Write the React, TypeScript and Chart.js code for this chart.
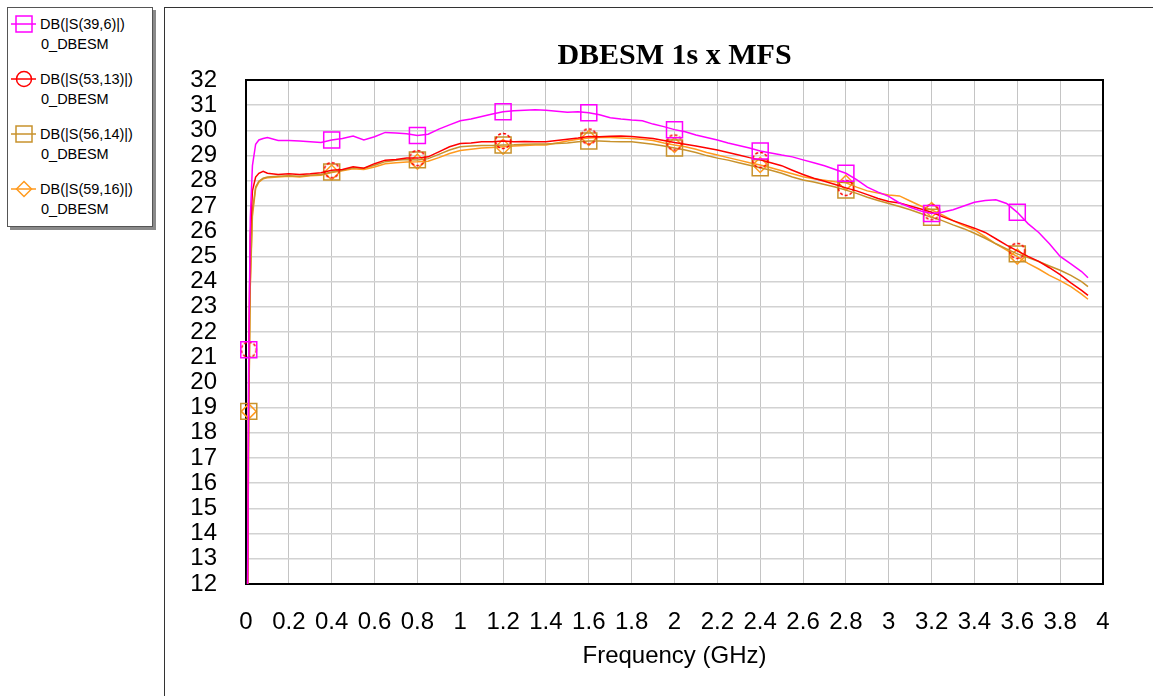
import React, { useEffect, useRef } from "react";
import { Chart, registerables } from "chart.js";

Chart.register(...registerables);

// Frequency (GHz)
const freq = [
  0.005, 0.013, 0.02, 0.03, 0.045, 0.06, 0.08, 0.1,
  0.15, 0.2, 0.25, 0.3, 0.35, 0.4, 0.45, 0.5, 0.55, 0.6, 0.65, 0.7, 0.75, 0.8, 0.85, 0.9, 0.95, 1.0,
  1.05, 1.1, 1.15, 1.2, 1.25, 1.3, 1.35, 1.4, 1.45, 1.5, 1.55, 1.6, 1.65, 1.7, 1.75, 1.8, 1.85, 1.9, 1.95, 2.0,
  2.05, 2.1, 2.15, 2.2, 2.25, 2.3, 2.35, 2.4, 2.45, 2.5, 2.55, 2.6, 2.65, 2.7, 2.75, 2.8, 2.85, 2.9, 2.95, 3.0,
  3.05, 3.1, 3.15, 3.2, 3.25, 3.3, 3.35, 3.4, 3.45, 3.5, 3.55, 3.6, 3.65, 3.7, 3.75, 3.8, 3.85, 3.9,
  3.93,
];

const s39_6 = [
  8, 21.3, 26.5, 28.6, 29.45, 29.62, 29.68, 29.72,
  29.6, 29.6, 29.58, 29.55, 29.52, 29.62, 29.68, 29.78, 29.62, 29.75, 29.92, 29.9, 29.87, 29.8, 29.85, 30.05, 30.22, 30.38,
  30.45, 30.55, 30.65, 30.74, 30.78, 30.8, 30.82, 30.8, 30.76, 30.72, 30.74, 30.7, 30.62, 30.5, 30.45, 30.41, 30.38, 30.25, 30.15, 30.03,
  29.95, 29.82, 29.72, 29.62, 29.5, 29.4, 29.3, 29.18, 29.1, 29.02, 28.95, 28.83, 28.72, 28.6, 28.45, 28.3, 28.05, 27.75, 27.55, 27.38,
  27.12, 26.95, 26.8, 26.7, 26.75, 26.85, 27.0, 27.15, 27.22, 27.25, 27.1, 26.75, 26.3, 25.95, 25.5, 25.0, 24.7, 24.4,
  24.15,
];

const s53_13 = [
  8, 21.3, 25.8, 27.6, 28.15, 28.3, 28.38, 28.3,
  28.25, 28.28, 28.25, 28.28, 28.32, 28.42, 28.45, 28.56, 28.5, 28.68, 28.82, 28.85, 28.9, 28.9, 28.95, 29.15, 29.35, 29.48,
  29.5, 29.55, 29.55, 29.58, 29.55, 29.56, 29.55, 29.55, 29.6, 29.65, 29.7, 29.76, 29.75, 29.77, 29.78, 29.76, 29.72, 29.68, 29.6, 29.52,
  29.45, 29.38, 29.3, 29.22, 29.12, 29.02, 28.92, 28.83, 28.72, 28.6, 28.42, 28.25, 28.1, 27.98, 27.85, 27.72, 27.6, 27.45, 27.3, 27.18,
  27.12, 27.0, 26.88, 26.75, 26.58, 26.42, 26.27, 26.12, 25.95, 25.7, 25.45, 25.22, 25.0, 24.8, 24.55, 24.28, 23.95, 23.65,
  23.45,
];

const s56_14 = [
  8, 18.85, 24.0, 26.8, 27.75, 27.98, 28.1, 28.15,
  28.18, 28.2, 28.18, 28.22, 28.25, 28.35, 28.42, 28.52, 28.5, 28.62, 28.76, 28.82, 28.85, 28.83, 28.88, 29.05, 29.22, 29.35,
  29.38, 29.4, 29.4, 29.42, 29.43, 29.45, 29.46, 29.46, 29.48, 29.5, 29.55, 29.58, 29.58, 29.56, 29.55, 29.55, 29.5, 29.45, 29.38, 29.3,
  29.22, 29.12, 29.0, 28.9, 28.82, 28.72, 28.62, 28.52, 28.42, 28.3, 28.15, 28.03, 27.95, 27.85, 27.75, 27.63, 27.5, 27.35, 27.22, 27.1,
  26.98, 26.85, 26.7, 26.55, 26.42, 26.25, 26.1, 25.92, 25.72, 25.5, 25.3, 25.1, 24.95, 24.8, 24.62, 24.45, 24.25, 24.0,
  23.8,
];

const s59_16 = [
  8, 18.85, 23.8, 26.6, 27.7, 27.95, 28.08, 28.12,
  28.15, 28.18, 28.15, 28.2, 28.22, 28.33, 28.4, 28.48, 28.45, 28.55, 28.68, 28.72, 28.75, 28.76, 28.78, 28.92, 29.08, 29.2,
  29.25, 29.3, 29.32, 29.35, 29.38, 29.4, 29.42, 29.42, 29.5, 29.58, 29.65, 29.7, 29.72, 29.72, 29.7, 29.68, 29.65, 29.6, 29.5, 29.42,
  29.35, 29.25, 29.12, 29.02, 28.92, 28.82, 28.72, 28.63, 28.52, 28.4, 28.28, 28.16, 28.08, 28.02, 27.96, 27.92, 27.75, 27.6, 27.52, 27.44,
  27.4, 27.2, 27.0, 26.84, 26.65, 26.42, 26.22, 26.05, 25.78, 25.5, 25.25, 24.99, 24.72, 24.5, 24.25, 24.04, 23.8, 23.5,
  23.3,
];

const markerFreqs = [0.013, 0.4, 0.8, 1.2, 1.6, 2.0, 2.4, 2.8, 3.2, 3.6];

const seriesNames = ["DB(|S(39,6)|)", "DB(|S(53,13)|)", "DB(|S(56,14)|)", "DB(|S(59,16)|)"];
const seriesSubLabel = "0_DBESM";
const seriesColors = ["#FF00FF", "#FF0000", "#C8922C", "#FF9A1E"];

const chartTitle = "DBESM 1s x MFS";
const xTitle = "Frequency (GHz)";

const markerIdx = new Set(
  markerFreqs.map((m) => freq.findIndex((f) => Math.abs(f - m) < 1e-6))
);

function makeDashedCircle(color: string) {
  const c = document.createElement("canvas");
  c.width = 20;
  c.height = 20;
  const g = c.getContext("2d")!;
  g.strokeStyle = color;
  g.lineWidth = 1.5;
  g.setLineDash([3, 2]);
  g.beginPath();
  g.arc(10, 10, 7.5, 0, Math.PI * 2);
  g.stroke();
  return c;
}

const plotBorder = {
  id: "plotBorder",
  beforeDatasetsDraw(chart: any) {
    const { ctx, chartArea } = chart;
    ctx.save();
    ctx.strokeStyle = "#000";
    ctx.lineWidth = 2;
    ctx.strokeRect(chartArea.left, chartArea.top, chartArea.right - chartArea.left, chartArea.bottom - chartArea.top);
    ctx.restore();
  },
};

const plotTitle = {
  id: "plotTitle",
  afterDraw(chart: any) {
    const { ctx, chartArea } = chart;
    ctx.save();
    ctx.fillStyle = "#000";
    ctx.font = "bold 30px 'Liberation Serif', 'Times New Roman', serif";
    ctx.textAlign = "center";
    ctx.textBaseline = "alphabetic";
    ctx.fillText(chartTitle, (chartArea.left + chartArea.right) / 2, 55.5);
    ctx.restore();
  },
};

function LegendIcon({ idx }: { idx: number }) {
  const col = seriesColors[idx];
  let marker: any = null;
  if (idx === 0 || idx === 2) {
    marker = <rect x={5} y={1} width={16} height={16} fill="none" stroke={col} strokeWidth={1.5} />;
  } else if (idx === 1) {
    marker = <circle cx={13} cy={9} r={7.5} fill="none" stroke={col} strokeWidth={1.5} />;
  } else {
    marker = <polygon points="13,1.5 20.5,9 13,16.5 5.5,9" fill="none" stroke={col} strokeWidth={1.5} />;
  }
  return (
    <svg width={26} height={18} style={{ position: "absolute", left: 0, top: 0 }}>
      <line x1={0} y1={9} x2={25} y2={9} stroke={col} strokeWidth={1.5} />
      {marker}
    </svg>
  );
}

export default function App() {
  const canvasRef = useRef<HTMLCanvasElement | null>(null);

  useEffect(() => {
    const canvas = canvasRef.current;
    if (!canvas) return;
    const dashed = makeDashedCircle(seriesColors[1]);
    const values = [s39_6, s53_13, s56_14, s59_16];
    const styles: any[] = ["rect", dashed, "rect", "rectRot"];
    const radii = [11.3, 10, 11.3, 7.5];

    const datasets = values.map((vals, i) => ({
      label: seriesNames[i],
      data: freq.map((f, k) => ({ x: f, y: vals[k] })),
      borderColor: seriesColors[i],
      backgroundColor: "transparent",
      borderWidth: 1.5,
      tension: 0,
      pointStyle: styles[i],
      pointBorderColor: seriesColors[i],
      pointBackgroundColor: "transparent",
      pointBorderWidth: 1.5,
      pointRadius: (ctx: any) => (markerIdx.has(ctx.dataIndex) ? radii[i] : 0),
      pointHoverRadius: (ctx: any) => (markerIdx.has(ctx.dataIndex) ? radii[i] : 0),
      clip: { left: 12, top: 0, right: 0, bottom: 0 },
    }));

    const tickFont = { family: "'Liberation Sans', Arial, sans-serif", size: 24 };

    const chart = new Chart(canvas, {
      type: "line",
      data: { datasets },
      plugins: [plotBorder, plotTitle],
      options: {
        animation: false,
        responsive: false,
        maintainAspectRatio: false,
        layout: { padding: { left: 0, right: 50, top: 72, bottom: 0 } },
        plugins: {
          legend: { display: false },
          tooltip: { enabled: false },
          title: { display: false },
        },
        scales: {
          x: {
            type: "linear",
            min: 0,
            max: 4,
            afterFit: (s: any) => {
              s.height = 112;
            },
            grid: { color: "#c4c4c4", lineWidth: 1, drawTicks: false },
            border: { display: false },
            ticks: {
              stepSize: 0.2,
              autoSkip: false,
              maxRotation: 0,
              padding: 24,
              color: "#000",
              font: tickFont,
              callback: (v: any) => String(Math.round(Number(v) * 10) / 10),
            },
            title: {
              display: true,
              text: xTitle,
              color: "#000",
              font: tickFont,
              padding: { top: 0, bottom: 25 },
            },
          },
          y: {
            type: "linear",
            min: 12,
            max: 32,
            afterFit: (s: any) => {
              s.width = 81;
            },
            grid: { color: "#d2d2d2", lineWidth: 1.5, drawTicks: false },
            border: { display: false },
            ticks: {
              stepSize: 1,
              autoSkip: false,
              padding: 29,
              color: "#000",
              font: tickFont,
            },
          },
        },
      },
    } as any);

    return () => chart.destroy();
  }, []);

  const entryTops = [24, 79, 134, 189];

  return (
    <div
      style={{
        position: "fixed",
        left: 0,
        top: 0,
        width: 1153,
        height: 696,
        background: "#fff",
        overflow: "hidden",
      }}
    >
      {/* Legend box */}
      <div
        style={{
          position: "absolute",
          left: 7,
          top: 7,
          width: 144,
          height: 218,
          border: "1px solid #555",
          boxShadow: "3px 3px 0 #8a8a8a",
          background: "#fff",
        }}
      />
      {seriesNames.map((name, i) => (
        <React.Fragment key={name}>
          <div style={{ position: "absolute", left: 11, top: entryTops[i] - 9, width: 26, height: 18 }}>
            <LegendIcon idx={i} />
          </div>
          <div
            style={{
              position: "absolute",
              left: 40,
              top: entryTops[i] - 10,
              height: 20,
              lineHeight: "20px",
              fontFamily: "'Liberation Sans', Arial, sans-serif",
              fontSize: 14.5,
              color: "#000",
              whiteSpace: "nowrap",
            }}
          >
            {name}
          </div>
          <div
            style={{
              position: "absolute",
              left: 41,
              top: entryTops[i] + 10,
              height: 20,
              lineHeight: "20px",
              fontFamily: "'Liberation Sans', Arial, sans-serif",
              fontSize: 14.5,
              color: "#000",
              whiteSpace: "nowrap",
            }}
          >
            {seriesSubLabel}
          </div>
        </React.Fragment>
      ))}
      {/* Chart frame */}
      <div
        style={{
          position: "absolute",
          left: 164,
          top: 7,
          width: 989,
          height: 689,
          borderLeft: "1px solid #333",
          borderTop: "1px solid #333",
          boxSizing: "border-box",
        }}
      />
      <canvas
        ref={canvasRef}
        width={988}
        height={688}
        style={{ position: "absolute", left: 165, top: 8, width: 988, height: 688 }}
      />
    </div>
  );
}
